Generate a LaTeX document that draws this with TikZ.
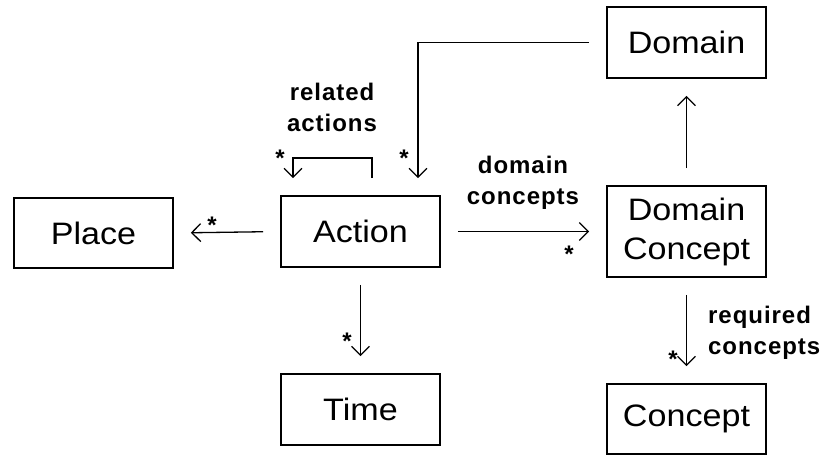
\documentclass[tikz,border=0pt]{standalone}
\usepackage{fontspec}
\setmainfont{Liberation Sans}
\newfontfamily\boxfont[FakeStretch=1.1]{Liberation Sans}
\newfontfamily\lblfont[LetterSpace=4]{Liberation Sans Bold}
\usetikzlibrary{arrows.meta}
\begin{document}
\begin{tikzpicture}[x=1pt,y=-1pt,
  entity/.style={draw,line width=1.6pt,minimum width=159pt,inner sep=0pt,
    font=\boxfont\fontsize{31}{36}\selectfont,align=center},
  arr/.style={line width=1.3pt,-{Straight Barb[length=9pt,width=18pt,line width=1.3pt]},
    shorten <=17pt,shorten >=17pt},
  rolelbl/.style={font=\lblfont\fontsize{24}{31}\selectfont,inner sep=0pt},
  mult/.style={font=\bfseries\fontsize{24}{24}\selectfont,inner sep=0pt,anchor=north}]
\useasboundingbox (0,0) rectangle (823,455);
\fill[white] (0,0) rectangle (823,455);

% entities
\node[entity,minimum height=71pt] (domain)  at (686.5,42.5)  {Domain};
\node[entity,minimum height=91pt] (dconcept) at (686.5,231.5) {Domain\\[3pt]Concept};
\node[entity,minimum height=70pt] (concept) at (686.5,419)   {Concept};
\node[entity,minimum height=71pt] (action)  at (360.5,231.5) {Action};
\node[entity,minimum height=70pt] (place)   at (93.5,233)    {Place};
\node[entity,minimum height=71pt] (time)    at (360.5,409.5) {Time};

% associations
\draw[arr] (action.west) -- (place.east);
\draw[arr] (action.south) -- (time.north);
\draw[arr] (action.east) -- (dconcept.west);
\draw[arr] (dconcept.north) -- (domain.south);
\draw[arr] (dconcept.south) -- (concept.north);
\draw[arr] (domain.west) -| ([xshift=57.5pt]action.north);
\coordinate (loopR) at ([xshift=11.5pt]action.north);
\coordinate (loopL) at ([xshift=-67.5pt]action.north);
\draw[arr] (loopR) -- (loopR |- 0,158) -| (loopL);

% role names
\node[rolelbl,align=center] (lrel) at (332,107) {related\\actions};
\node[rolelbl,align=center] (ldom) at (523,183) {domain\\concepts};
\node[rolelbl,align=left,anchor=west] (lreq) at (708,333) {required\\concepts};

% multiplicities
\node[mult] (m1) at (280,150) {*};
\node[mult] (m2) at (404,150) {*};
\node[mult] (m3) at (212,217) {*};
\node[mult] (m4) at (569,246) {*};
\node[mult] (m5) at (347,333) {*};
\node[mult] (m6) at (673,351) {*};
\end{tikzpicture}
\end{document}
